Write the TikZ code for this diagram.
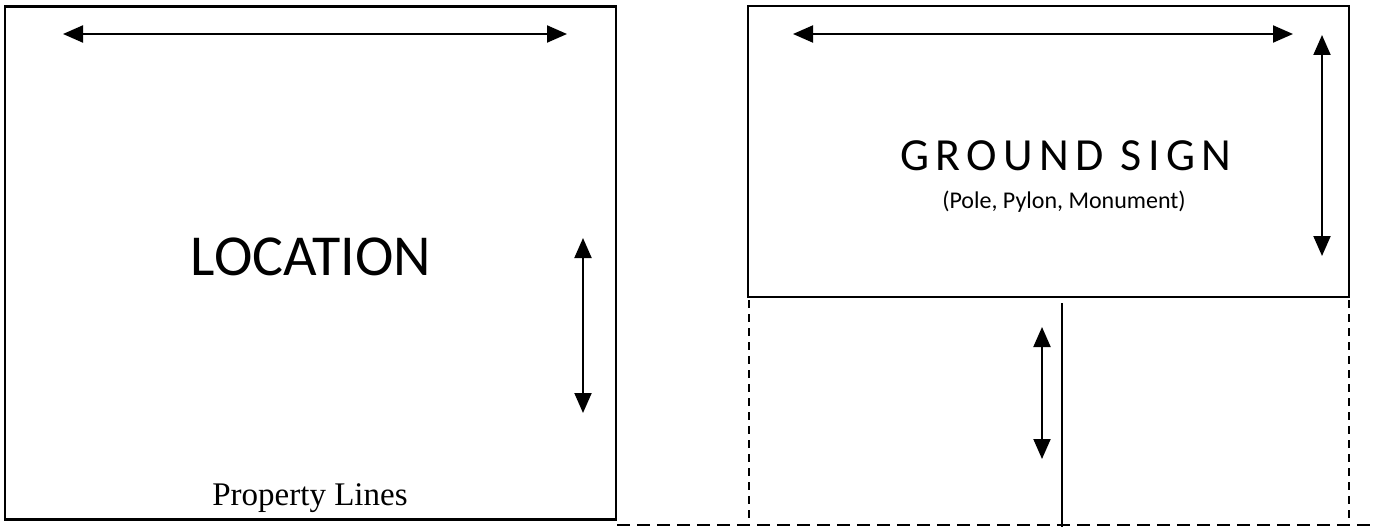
\documentclass[tikz,border=0pt]{standalone}
\usepackage{fontspec}
\setmainfont{Carlito}
\newfontfamily\serifpl{Liberation Serif}
\usetikzlibrary{arrows.meta}
\begin{document}
\begin{tikzpicture}[x=1pt,y=-1pt,
  boxline/.style={draw=black,line width=2.2pt,rectangle,inner sep=0pt,outer sep=0pt},
  dimarrow/.style={line width=2pt,{Triangle[length=20pt,width=17pt]}-{Triangle[length=20pt,width=17pt]}},
  dashedline/.style={line width=1.8pt,dash pattern=on 8pt off 6pt},
  bottomdash/.style={line width=1.8pt,dash pattern=on 13pt off 7pt},
  poleline/.style={line width=2pt},
  txt/.style={inner sep=0pt,outer sep=0pt,anchor=base}]
\useasboundingbox (0,0) rectangle (1375,527);
% boxes
\node[boxline,minimum width=611pt,minimum height=513pt] (locbox) at (310.5,263) {};
\node[boxline,minimum width=601pt,minimum height=291pt] (signbox) at (1048.5,151.5) {};
% texts
\node[txt,font=\fontsize{58}{62}\selectfont] (loc) at (311,275) {LOCATION};
\node[txt,font=\serifpl\fontsize{33}{36}\selectfont] (prop) at (310,505) {Property Lines};
\node[txt,font=\addfontfeature{LetterSpace=14}\fontsize{46}{50}\selectfont] (gs) at (1066,170) {GROUND SIGN};
\node[txt,font=\fontsize{24}{28}\selectfont] (sub) at (1064,208) {(Pole, Pylon, Monument)};
% arrow coordinates
\coordinate (lh1) at (63,34);
\coordinate (lh2) at (567,34);
\coordinate (lv1) at (583,238);
\coordinate (lv2) at (583,413);
\coordinate (rh1) at (793,34);
\coordinate (rh2) at (1293,34);
\coordinate (rv1) at (1322,35);
\coordinate (rv2) at (1322,256);
\coordinate (pv1) at (1042,327);
\coordinate (pv2) at (1042,459);
% pole and ground
\coordinate (dl1) at (749,300);
\coordinate (dl2) at (749,521);
\coordinate (dr1) at (1349,300);
\coordinate (dr2) at (1349,521);
\coordinate (p1) at (1062,303);
\coordinate (p2) at (1062,527);
\coordinate (g1) at (617,525);
\coordinate (g2) at (1375,525);
\draw[dimarrow] (lh1) -- (lh2);
\draw[dimarrow] (lv1) -- (lv2);
\draw[dimarrow] (rh1) -- (rh2);
\draw[dimarrow] (rv1) -- (rv2);
\draw[dimarrow] (pv1) -- (pv2);
\draw[dashedline] (dl1) -- (dl2);
\draw[dashedline] (dr1) -- (dr2);
\draw[poleline] (p1) -- (p2);
\draw[bottomdash] (g1) -- (g2);
\end{tikzpicture}
\end{document}
